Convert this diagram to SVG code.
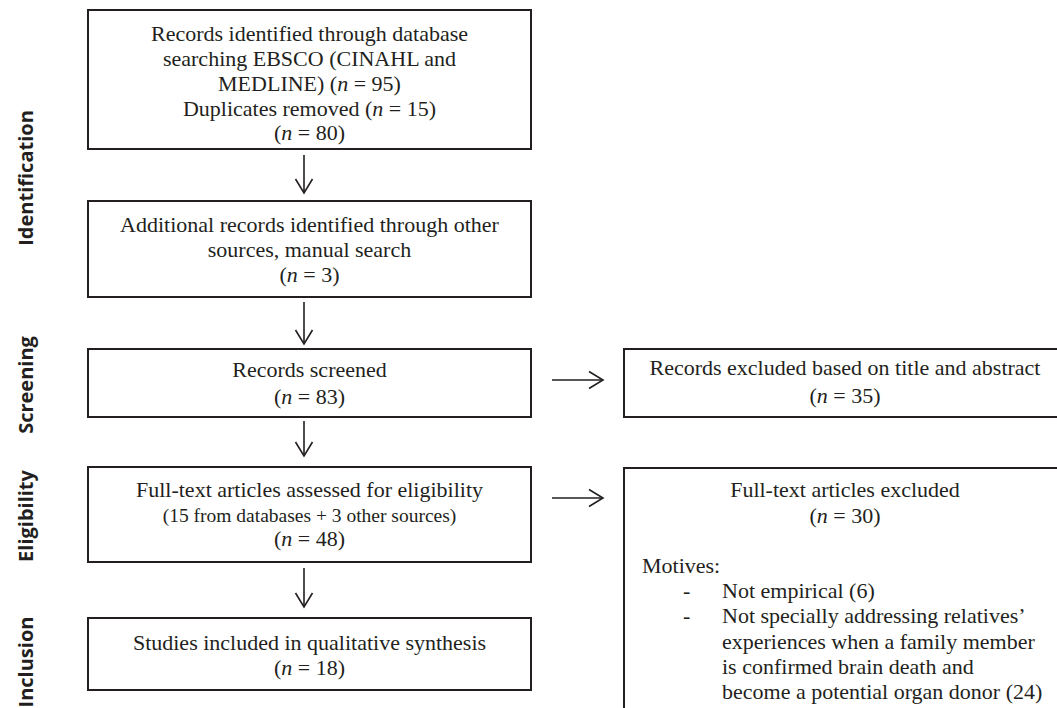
<svg xmlns="http://www.w3.org/2000/svg" width="1057" height="708" viewBox="0 0 1057 708">
<style>
.box{fill:#fff;stroke:#231f20;stroke-width:2}
.t{font-family:"Liberation Serif","Times New Roman",serif;font-size:22px;fill:#231f20}
.c{text-anchor:middle}
.s{font-size:19.5px}
.lab{font-family:"Open Sans","DejaVu Sans",sans-serif;font-weight:700;font-size:20px;fill:#231f20;text-anchor:middle}
.conn{fill:none;stroke:#231f20;stroke-width:1.6}
.i{font-style:italic}
</style>
<defs>
<marker id="ah" markerUnits="userSpaceOnUse" viewBox="-16 -10 18 20" refX="0" refY="0" markerWidth="18" markerHeight="20" orient="auto">
<path d="M-14,-8.5 L0,0 L-14,8.5" fill="none" stroke="#231f20" stroke-width="1.6"/>
</marker>
</defs>
<rect width="1057" height="708" fill="#fff"/>
<g id="stage-labels">
<text class="lab" transform="translate(33,178) rotate(-90)">Identification</text>
<text class="lab" transform="translate(33,385) rotate(-90)">Screening</text>
<text class="lab" transform="translate(33,516) rotate(-90)">Eligibility</text>
<text class="lab" transform="translate(33,662) rotate(-90)">Inclusion</text>
</g>
<g id="identified">
<rect class="box" x="88" y="10" width="443" height="139"/>
<text class="t c" x="309.5" y="40.5">Records identified through database</text>
<text class="t c" x="309.5" y="65.5">searching EBSCO (CINAHL and</text>
<text class="t c" x="309.5" y="90.5">MEDLINE) (<tspan class="i">n</tspan> = 95)</text>
<text class="t c" x="309.5" y="115.5">Duplicates removed (<tspan class="i">n</tspan> = 15)</text>
<text class="t c" x="309.5" y="140">(<tspan class="i">n</tspan> = 80)</text>
</g>
<g id="additional">
<rect class="box" x="88" y="201" width="443" height="96"/>
<text class="t c" x="309.5" y="232">Additional records identified through other</text>
<text class="t c" x="309.5" y="257">sources, manual search</text>
<text class="t c" x="309.5" y="282">(<tspan class="i">n</tspan> = 3)</text>
</g>
<g id="screened">
<rect class="box" x="88" y="349" width="443" height="68"/>
<text class="t c" x="309.5" y="377">Records screened</text>
<text class="t c" x="309.5" y="404">(<tspan class="i">n</tspan> = 83)</text>
</g>
<g id="excluded-title">
<rect class="box" x="624" y="349" width="445" height="68"/>
<text class="t c" x="845" y="375">Records excluded based on title and abstract</text>
<text class="t c" x="845" y="403">(<tspan class="i">n</tspan> = 35)</text>
</g>
<g id="fulltext">
<rect class="box" x="88" y="467" width="443" height="95"/>
<text class="t c" x="309.5" y="497">Full-text articles assessed for eligibility</text>
<text class="t c s" x="309.5" y="522">(15 from databases + 3 other sources)</text>
<text class="t c" x="309.5" y="546">(<tspan class="i">n</tspan> = 48)</text>
</g>
<g id="excluded-fulltext">
<rect class="box" x="624" y="468" width="445" height="260"/>
<text class="t c" x="845" y="497">Full-text articles excluded</text>
<text class="t c" x="845" y="523">(<tspan class="i">n</tspan> = 30)</text>
<text class="t" x="642" y="573">Motives:</text>
<text class="t" x="683" y="598">-</text>
<text class="t" x="722" y="598">Not empirical (6)</text>
<text class="t" x="683" y="623">-</text>
<text class="t" x="722" y="623">Not specially addressing relatives’</text>
<text class="t" x="722" y="649">experiences when a family member</text>
<text class="t" x="722" y="674">is confirmed brain death and</text>
<text class="t" x="722" y="699">become a potential organ donor (24)</text>
</g>
<g id="included">
<rect class="box" x="88" y="618" width="443" height="72"/>
<text class="t c" x="309.5" y="650">Studies included in qualitative synthesis</text>
<text class="t c" x="309.5" y="675">(<tspan class="i">n</tspan> = 18)</text>
</g>
<g id="connectors">
<path class="conn" d="M304,155 V193" marker-end="url(#ah)"/>
<path class="conn" d="M304,302 V344" marker-end="url(#ah)"/>
<path class="conn" d="M304,421 V456" marker-end="url(#ah)"/>
<path class="conn" d="M304,568 V607" marker-end="url(#ah)"/>
<path class="conn" d="M552,380 H603" marker-end="url(#ah)"/>
<path class="conn" d="M552,498 H603" marker-end="url(#ah)"/>
</g>
</svg>
